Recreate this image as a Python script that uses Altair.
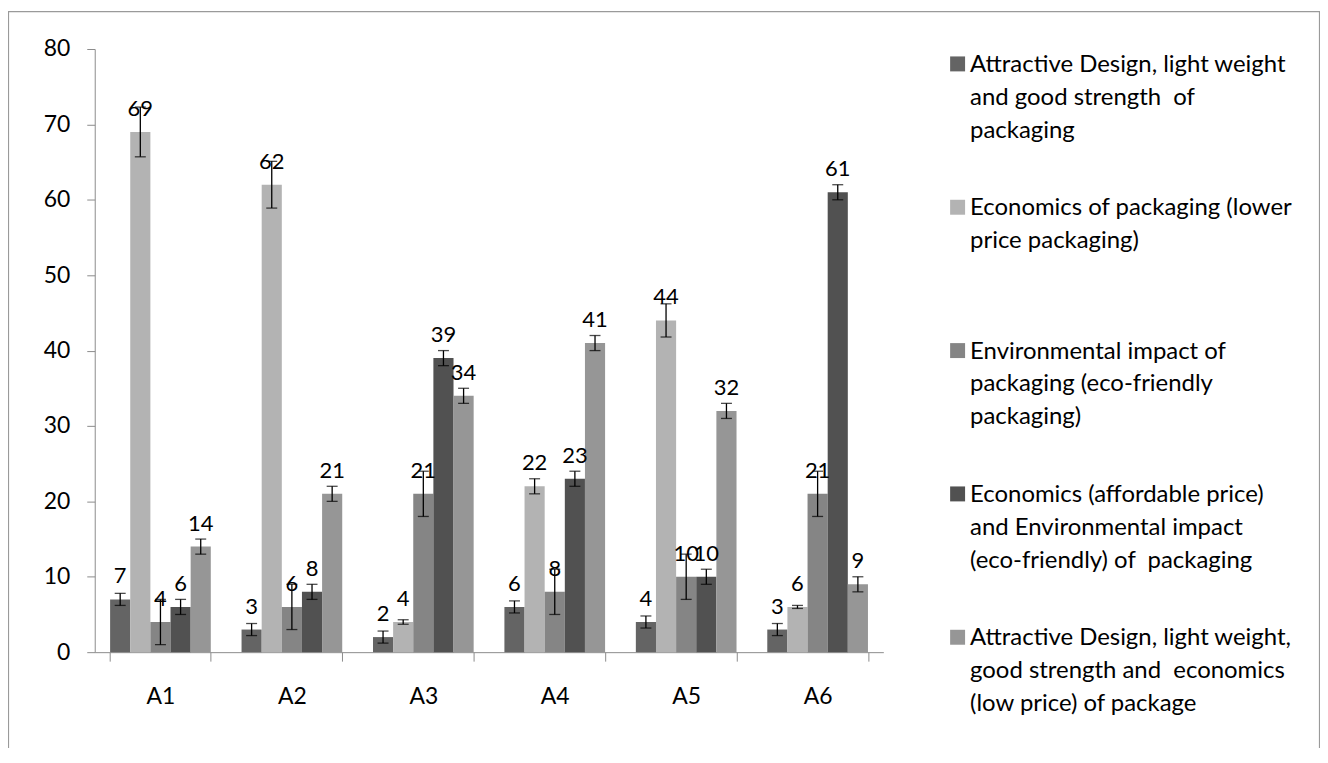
import altair as alt
import pandas as pd

# ---------------- data ----------------
categories = ["A1", "A2", "A3", "A4", "A5", "A6"]

series_names = [
    "Attractive Design, light weight\nand good strength\u00a0 of\npackaging",
    "Economics of packaging (lower\nprice packaging)",
    "\u00a0Environmental impact of\npackaging (eco-friendly\npackaging)",
    "Economics (affordable price)\nand Environmental impact\n(eco-friendly) of\u00a0 packaging",
    "Attractive Design, light weight,\ngood strength and\u00a0 economics\n(low price) of package",
]

s1_values = [7, 3, 2, 6, 4, 3]
s2_values = [69, 62, 4, 22, 44, 6]
s3_values = [4, 6, 21, 8, 10, 21]
s4_values = [6, 8, 39, 23, 10, 61]
s5_values = [14, 21, 34, 41, 32, 9]

s1_errors = [0.8, 0.8, 0.8, 0.8, 0.8, 0.8]
s2_errors = [3.3, 3.1, 0.3, 1.0, 2.2, 0.2]
s3_errors = [3.0, 3.0, 3.0, 3.0, 3.0, 3.0]
s4_errors = [1.0, 1.0, 1.0, 1.0, 1.0, 1.0]
s5_errors = [1.0, 1.0, 1.0, 1.0, 1.0, 1.0]

y_ticks = [0, 10, 20, 30, 40, 50, 60, 70, 80]

colors = ["#646464", "#b3b3b3", "#858585", "#515151", "#969696"]

# ---------------- build table ----------------
all_values = [s1_values, s2_values, s3_values, s4_values, s5_values]
all_errors = [s1_errors, s2_errors, s3_errors, s4_errors, s5_errors]
rows = []
for s, vals, errs in zip(series_names, all_values, all_errors):
    for c, v, e in zip(categories, vals, errs):
        rows.append({"cat": c, "series": s, "value": v, "lo": v - e, "hi": v + e})
df = pd.DataFrame(rows)
legend_df = pd.DataFrame({"series": series_names})

FONT = "Lato"
AXIS_GREY = "#8c8c8c"

color = alt.Color("series:N", sort=series_names,
                  scale=alt.Scale(domain=series_names, range=colors), legend=None)
x = alt.X("cat:N", sort=categories, title=None,
          scale=alt.Scale(paddingInner=0.234, paddingOuter=0.117),
          axis=alt.Axis(labelAngle=0, tickBand="extent", tickSize=9, labelPadding=24,
                        labelFontSize=23, labelFont=FONT, labelColor="black",
                        domainColor=AXIS_GREY, tickColor=AXIS_GREY, grid=False))
xo = alt.XOffset("series:N", sort=series_names,
                 scale=alt.Scale(paddingInner=0, paddingOuter=0))
yscale = alt.Scale(domain=[0, 80], nice=False)

base = alt.Chart(df)

bars = base.mark_bar().encode(
    x=x, xOffset=xo,
    y=alt.Y("value:Q", scale=yscale, title=None,
            axis=alt.Axis(values=y_ticks, tickSize=8, labelPadding=17, labelFontSize=23,
                          labelFont=FONT, labelColor="black", domainColor=AXIS_GREY,
                          tickColor=AXIS_GREY, grid=False)),
    color=color,
)
err = base.mark_rule(color="black", strokeWidth=1.3).encode(
    x=x, xOffset=xo,
    y=alt.Y("lo:Q", scale=yscale, title=None), y2="hi:Q",
)
cap_lo = base.mark_tick(color="black", thickness=1.3, size=11).encode(
    x=x, xOffset=xo, y=alt.Y("lo:Q", scale=yscale, title=None))
cap_hi = base.mark_tick(color="black", thickness=1.3, size=11).encode(
    x=x, xOffset=xo, y=alt.Y("hi:Q", scale=yscale, title=None))
labels = base.mark_text(dy=-23, fontSize=22, font=FONT, color="black",
                        baseline="middle").encode(
    x=x, xOffset=xo, y=alt.Y("value:Q", scale=yscale, title=None),
    text=alt.Text("value:Q", format="d"),
)
main = alt.layer(bars, err, cap_lo, cap_hi, labels)

# legend drawn from the series list
ly = alt.Y("series:N", sort=series_names, axis=None,
           scale=alt.Scale(type="point", padding=0.104))
leg_sq = alt.Chart(legend_df).mark_square(size=225, opacity=1).encode(
    x=alt.value(865.5), y=ly, color=color)
leg_tx = alt.Chart(legend_df).mark_text(align="left", baseline="top", dy=-11,
                                        fontSize=24, font=FONT, color="black",
                                        lineBreak="\n", lineHeight=33).encode(
    x=alt.value(878), y=ly, text="series:N")
legend = alt.layer(leg_sq, leg_tx)

frame = alt.Chart(pd.DataFrame({"f": [0]})).mark_rect(
    fill="white", fillOpacity=0, stroke="#9a9a9a", strokeWidth=1.2).encode(
    x=alt.value(-86.5), x2=alt.value(1228.5), y=alt.value(-37.5), y2=alt.value(760))

chart = alt.layer(frame, main, legend).resolve_scale(y="independent").properties(
    width=791, height=605,
    autosize=alt.AutoSizeParams(type="none"),
    padding={"left": 87, "top": 40, "right": 438, "bottom": 95},
).configure_view(stroke=None)

chart.save("out.html", embed_options={"renderer": "svg", "actions": False})
